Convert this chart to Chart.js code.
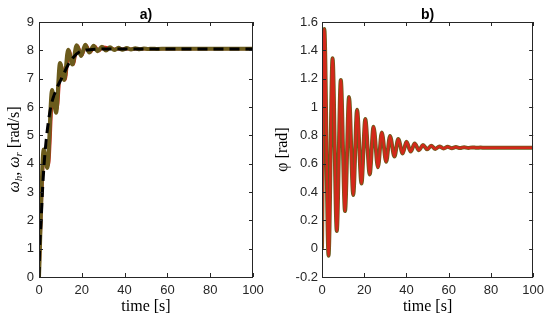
<!DOCTYPE html>
<html>
<head>
<meta charset="utf-8">
<script src="https://cdn.jsdelivr.net/npm/chart.js@4.4.0/dist/chart.umd.min.js"></script>
<style>
  body { margin: 0; background: #fff; }
  #wrap { position: relative; width: 550px; height: 320px; }
  .box { position: absolute; top: 0; width: 275px; height: 320px; }
</style>
</head>
<body>
<div id="wrap">
  <div class="box" style="left:0"><canvas id="chartA"></canvas></div>
  <div class="box" style="left:275px"><canvas id="chartB"></canvas></div>
</div>
<script>
// panel a) : angular speeds
let refT   = [0, 0.3, 1, 1.6, 2.4, 3.6, 5.5, 8, 10.5, 13.7, 16, 19, 25, 35, 100];
let refW   = [0, 1, 2, 3, 4, 5, 6, 6.6, 7, 7.5, 7.75, 7.95, 8.03, 8.05, 8.05];

let wrT = [0, 2.2, 3.9, 6.1, 8.0, 9.8, 11.8, 13.6, 15.6, 17.6, 19.7, 21.6, 23.5, 25.5, 27.4, 29.4, 31.3, 33.2, 35.2, 37.1, 39, 41, 43, 45, 47, 49, 51, 53, 55, 60, 100];
let wrV = [0, 4.5, 3.85, 6.6, 5.8, 7.55, 6.95, 8.02, 7.5, 8.18, 7.8, 8.2, 7.92, 8.16, 7.97, 8.13, 7.99, 8.11, 8.01, 8.09, 8.02, 8.08, 8.03, 8.07, 8.04, 8.065, 8.045, 8.06, 8.05, 8.055, 8.055];

let whT = [0, 2.5, 4.4, 6.5, 8.4, 10.3, 12.2, 14.1, 16.0, 18, 20, 22, 24, 26, 28, 30, 35, 100];
let whV = [0, 4.4, 3.95, 6.5, 5.9, 7.5, 6.95, 8.0, 7.5, 8.17, 7.82, 8.18, 7.93, 8.15, 7.98, 8.12, 8.05, 8.055];

// panel b) : angle
let phiT = [0, 1.1, 3.1, 5.0, 7.0, 8.9, 10.9, 12.8, 14.8, 16.6, 18.7, 20.5, 22.6, 24.4, 26.5, 28.3, 30.4, 32.2, 34.3, 36.1, 38.2, 40.0, 42.0, 43.9, 45.9, 47.8, 49.8, 51.7, 53.7, 55.6, 57.6, 59.5, 61.5, 63.4, 65.4, 67.3, 69.3, 71.2, 73.2, 75.1, 77.1, 85, 100];
let phiV = [0, 1.55, -0.05, 1.345, 0.125, 1.19, 0.266, 1.07, 0.379, 0.98, 0.46, 0.915, 0.524, 0.861, 0.574, 0.82, 0.614, 0.795, 0.65, 0.775, 0.672, 0.755, 0.686, 0.742, 0.695, 0.732, 0.701, 0.726, 0.704, 0.722, 0.707, 0.719, 0.709, 0.717, 0.71, 0.716, 0.711, 0.715, 0.712, 0.714, 0.712, 0.713, 0.713];

let xTicks  = [0, 20, 40, 60, 80, 100];
let yTicksA = [0, 1, 2, 3, 4, 5, 6, 7, 8, 9];
let yTicksB = [-0.2, 0, 0.2, 0.4, 0.6, 0.8, 1, 1.2, 1.4, 1.6];

const olive = '#6b5b1c';
const red = '#d2281a';
const axisCol = '#262626';

function pts(t, v) { return t.map((x, i) => ({x: x, y: v[i]})); }

// matlab style box with inward ticks + panel title
const matlabBox = {
  id: 'matlabBox',
  afterDatasetsDraw(chart, args, opts) {
    const {ctx, chartArea: a, scales: {x, y}} = chart;
    ctx.save();
    ctx.strokeStyle = axisCol;
    ctx.lineWidth = 1;
    ctx.beginPath();
    x.ticks.forEach(t => {
      const px = Math.round(x.getPixelForValue(t.value)) + 0.5;
      ctx.moveTo(px, a.bottom); ctx.lineTo(px, a.bottom - 4);
      ctx.moveTo(px, a.top); ctx.lineTo(px, a.top + 4);
    });
    y.ticks.forEach(t => {
      const py = Math.round(y.getPixelForValue(t.value)) + 0.5;
      ctx.moveTo(a.left, py); ctx.lineTo(a.left + 4, py);
      ctx.moveTo(a.right, py); ctx.lineTo(a.right - 4, py);
    });
    ctx.stroke();
    ctx.strokeRect(Math.round(a.left) + 0.5, Math.round(a.top) + 0.5, Math.round(a.width) - 1, Math.round(a.height));
    if (opts.title) {
      ctx.fillStyle = '#000';
      ctx.font = 'bold 14px "Liberation Sans", Arial, sans-serif';
      ctx.textAlign = 'center';
      ctx.textBaseline = 'middle';
      ctx.fillText(opts.title, (a.left + a.right) / 2, 15);
    }
    ctx.restore();
  }
};

// rotated y label with subscripts
const ySubLabel = {
  id: 'ySubLabel',
  afterDraw(chart, args, opts) {
    if (!opts.parts) return;
    const {ctx, chartArea: a} = chart;
    const font = p => (p.it ? 'italic ' : '') + (p.sub ? '11px' : '16px') + ' "Liberation Serif", serif';
    ctx.save();
    ctx.translate(opts.x, (a.top + a.bottom) / 2);
    ctx.rotate(-Math.PI / 2);
    ctx.fillStyle = '#000';
    ctx.textBaseline = 'middle';
    ctx.textAlign = 'left';
    let total = 0;
    opts.parts.forEach(p => { ctx.font = font(p); total += ctx.measureText(p.t).width; });
    let cx = -total / 2;
    opts.parts.forEach(p => {
      ctx.font = font(p);
      ctx.fillText(p.t, cx, p.sub ? 4 : 0);
      cx += ctx.measureText(p.t).width;
    });
    ctx.restore();
  }
};

const tickFont = {family: '"Liberation Sans", Arial, sans-serif', size: 13};
const labelFont = {family: '"Liberation Serif", serif', size: 16, lineHeight: 1};

function xScale() {
  return {
    type: 'linear', min: 0, max: 100,
    grid: {display: false, drawTicks: false}, border: {display: false},
    afterBuildTicks: s => { s.ticks = xTicks.map(v => ({value: v})); },
    afterFit: s => { s.height = 43; },
    ticks: {color: axisCol, font: tickFont, padding: 6, maxRotation: 0},
    title: {display: true, text: 'time [s]', color: '#000', font: labelFont, padding: {bottom: 5}}
  };
}

new Chart(document.getElementById('chartA'), {
  type: 'line',
  data: {
    datasets: [
      {data: pts(refT, refW), borderColor: '#000', borderWidth: 3, borderDash: [10, 6], pointRadius: 0, cubicInterpolationMode: 'monotone'},
      {data: pts(wrT, wrV), borderColor: olive, borderWidth: 4, pointRadius: 0, cubicInterpolationMode: 'monotone'},
      {data: pts(whT, whV), borderColor: red, borderWidth: 3, pointRadius: 0, cubicInterpolationMode: 'monotone'}
    ]
  },
  options: {
    responsive: true, maintainAspectRatio: false, animation: false,
    layout: {padding: {top: 22, right: 22, left: 0, bottom: 0}},
    plugins: {
      legend: {display: false}, tooltip: {enabled: false},
      matlabBox: {title: 'a)'},
      ySubLabel: {x: 15, parts: [
        {t: 'ω', it: true}, {t: 'h', it: true, sub: true}, {t: ', '},
        {t: 'ω', it: true}, {t: 'r', it: true, sub: true}, {t: ' [rad/s]'}
      ]}
    },
    scales: {
      x: xScale(),
      y: {
        type: 'linear', min: 0, max: 9,
        grid: {display: false, drawTicks: false}, border: {display: false},
        afterBuildTicks: s => { s.ticks = yTicksA.map(v => ({value: v})); },
        afterFit: s => { s.width = 39; },
        ticks: {color: axisCol, font: tickFont, padding: 5}
      }
    }
  },
  plugins: [matlabBox, ySubLabel]
});

new Chart(document.getElementById('chartB'), {
  type: 'line',
  data: {
    datasets: [
      {data: pts(phiT, phiV), borderColor: red, borderWidth: 2.5, pointRadius: 0, cubicInterpolationMode: 'monotone'},
      {data: pts(phiT, phiV), borderColor: olive, borderWidth: 4, pointRadius: 0, cubicInterpolationMode: 'monotone'}
    ]
  },
  options: {
    responsive: true, maintainAspectRatio: false, animation: false,
    layout: {padding: {top: 22, right: 14, left: 0, bottom: 0}},
    plugins: {
      legend: {display: false}, tooltip: {enabled: false},
      matlabBox: {title: 'b)'}
    },
    scales: {
      x: xScale(),
      y: {
        type: 'linear', min: -0.2, max: 1.6,
        grid: {display: false, drawTicks: false}, border: {display: false},
        afterBuildTicks: s => { s.ticks = yTicksB.map(v => ({value: v})); },
        afterFit: s => { s.width = 47; },
        ticks: {color: axisCol, font: tickFont, padding: 4, callback: v => String(Math.round(v * 10) / 10)},
        title: {display: true, text: 'φ [rad]', color: '#000', font: labelFont, padding: {top: 0}}
      }
    }
  },
  plugins: [matlabBox]
});
</script>
</body>
</html>
